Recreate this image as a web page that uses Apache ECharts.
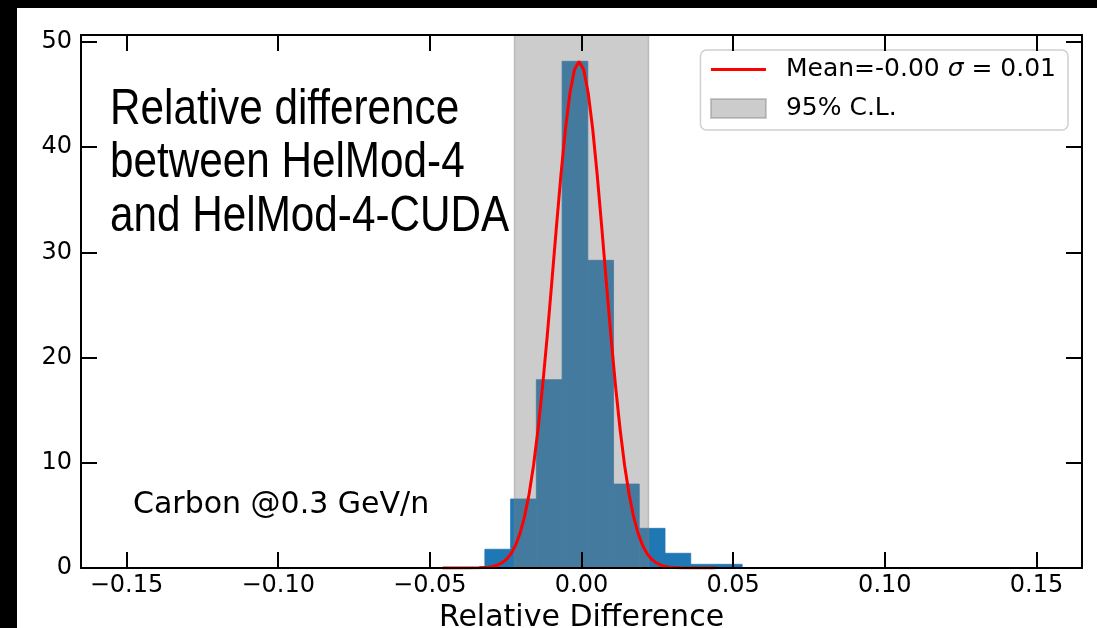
<!DOCTYPE html>
<html><head><meta charset="utf-8">
<script src="https://cdn.jsdelivr.net/npm/echarts@6/dist/echarts.min.js"></script>
<style>html,body{margin:0;padding:0;background:#fff}#c{width:1097px;height:628px}</style>
</head><body><div id="c"></div>
<script>
// ---- data ----
const binEdges = [-0.03185, -0.02337, -0.01489, -0.00640, 0.00208, 0.01056, 0.01904, 0.02753, 0.03601, 0.04449, 0.05297];
const counts   = [1.78, 6.56, 17.9, 48.17, 29.25, 7.98, 3.77, 1.40, 0.35, 0.35];
const fitX = [-0.0458, -0.0383, -0.0338, -0.0308, -0.0293, -0.0278, -0.0263, -0.0248, -0.0233, -0.0218, -0.0203, -0.0188, -0.0173, -0.0158, -0.0143, -0.0128, -0.0113, -0.0098, -0.0083, -0.0068, -0.0053, -0.0038, -0.0023, -0.0008, 0.0007, 0.0022, 0.0037, 0.0052, 0.0067, 0.0082, 0.0097, 0.0112, 0.0127, 0.0142, 0.0157, 0.0172, 0.0187, 0.0202, 0.0217, 0.0232, 0.0247, 0.0262, 0.0277, 0.0292, 0.0322, 0.0367, 0.0442];
const fitY = [0, 0.002, 0.021, 0.082, 0.152, 0.275, 0.480, 0.813, 1.332, 2.116, 3.254, 4.847, 6.994, 9.775, 13.24, 17.36, 22.04, 27.12, 32.32, 37.31, 41.71, 45.18, 47.39, 48.15, 47.39, 45.18, 41.71, 37.31, 32.32, 27.12, 22.04, 17.36, 13.24, 9.775, 6.994, 4.847, 3.254, 2.116, 1.332, 0.813, 0.480, 0.275, 0.152, 0.082, 0.021, 0.002, 0];
const clBand = [-0.0221, 0.0221];
const xTicks = [-0.15, -0.10, -0.05, 0, 0.05, 0.10, 0.15];
const yTicks = [0, 10, 20, 30, 40, 50];
const fitLabel = 'Mean=-0.00 σ = 0.01';
const clLabel = '95% C.L.';
const titleLines = ['Relative difference', 'between HelMod-4', 'and HelMod-4-CUDA'];
const noteText = 'Carbon @0.3 GeV/n';
const xName = 'Relative Difference';

// ---- build ----
const histData = counts.map((c, i) => [binEdges[i], binEdges[i + 1], c]);
const fitData = fitX.map((x, i) => [x, fitY[i]]);
const X_MIN = -0.165, X_MAX = 0.165, Y_MIN = 0, Y_MAX = 50.67;
const tickFont = 'DejaVu Sans';
const titleFont = '"Liberation Sans", Arial, sans-serif';
const fmtX = v => (v < 0 ? '\u2212' : '') + Math.abs(v).toFixed(2);

const chart = echarts.init(document.getElementById('c'), null, {renderer: 'canvas'});

const axisCommon = {
  axisLine: {show: true, onZero: false, lineStyle: {color: '#000', width: 2}},
  splitLine: {show: false},
  z: 10
};
const tickStyle = {show: true, inside: true, length: 16, lineStyle: {color: '#000', width: 2}};

const titleEl = (txt, y) => ({
  type: 'text', x: 110, y: y, scaleX: 0.845, scaleY: 1, z: 50,
  style: {text: txt, fontFamily: titleFont, fontSize: 50, fill: '#000', verticalAlign: 'middle'}
});

const option = {
  backgroundColor: '#fff',
  animation: false,
  grid: {left: 81, right: 15, top: 35, bottom: 60, containLabel: false, outerBoundsMode: 'none'},
  xAxis: [
    Object.assign({}, axisCommon, {
      type: 'value', position: 'bottom', min: X_MIN, max: X_MAX,
      name: xName, nameLocation: 'middle', nameGap: 27,
      nameTextStyle: {fontFamily: tickFont, fontSize: 30, color: '#000'},
      axisTick: Object.assign({customValues: xTicks}, tickStyle),
      axisLabel: {show: true, margin: 6, fontFamily: tickFont, fontSize: 24, color: '#000', customValues: xTicks, formatter: fmtX}
    }),
    Object.assign({}, axisCommon, {
      type: 'value', position: 'top', min: X_MIN, max: X_MAX,
      axisTick: Object.assign({customValues: xTicks}, tickStyle),
      axisLabel: {show: false}
    })
  ],
  yAxis: [
    Object.assign({}, axisCommon, {
      type: 'value', position: 'left', min: Y_MIN, max: Y_MAX,
      axisTick: Object.assign({customValues: yTicks}, tickStyle),
      axisLabel: {show: true, margin: 9, fontFamily: tickFont, fontSize: 24, color: '#000', customValues: yTicks}
    }),
    Object.assign({}, axisCommon, {
      type: 'value', position: 'right', min: Y_MIN, max: Y_MAX,
      axisTick: Object.assign({customValues: yTicks}, tickStyle),
      axisLabel: {show: false}
    })
  ],
  legend: {
    orient: 'vertical', right: 29, top: 50,
    padding: [7, 12, 9, 9],
    itemWidth: 55, itemHeight: 19, itemGap: 14,
    backgroundColor: 'rgba(255,255,255,0.8)',
    borderColor: '#d0d0d0', borderWidth: 1.5, borderRadius: 6,
    selectedMode: false,
    data: [{name: fitLabel, itemStyle: {opacity: 0}, lineStyle: {width: 3, color: '#ff0000'}}, {name: clLabel, icon: 'rect'}],
    formatter: name => {
      if (name.indexOf('σ') >= 0) {
        const p = name.split('σ');
        return '{n|' + p[0] + '}{i|σ}{n|' + p[1] + '}';
      }
      return '{n|' + name + '}';
    },
    textStyle: {
      fontFamily: tickFont, fontSize: 25, color: '#000', padding: [0, 0, 0, 15],
      rich: {
        n: {fontFamily: tickFont, fontSize: 25, color: '#000', lineHeight: 25},
        i: {fontFamily: tickFont, fontSize: 25, fontStyle: 'italic', color: '#000', lineHeight: 25}
      }
    }
  },
  series: [
    {
      name: 'hist', type: 'custom', xAxisIndex: 0, yAxisIndex: 0, z: 2,
      data: histData, encode: {x: [0, 1], y: 2},
      renderItem: (params, api) => {
        const p0 = api.coord([api.value(0), 0]);
        const p1 = api.coord([api.value(1), api.value(2)]);
        return {type: 'rect', shape: {x: p0[0], y: p1[1], width: p1[0] - p0[0], height: p0[1] - p1[1]},
                style: {fill: '#1f77b4', stroke: '#1f77b4', lineWidth: 0.8}};
      }
    },
    {
      name: clLabel, type: 'custom', xAxisIndex: 0, yAxisIndex: 0, z: 3,
      itemStyle: {color: 'rgba(128,128,128,0.4)', borderColor: 'rgba(128,128,128,0.4)', borderWidth: 1},
      data: [[clBand[0], clBand[1], 0]], encode: {x: [0, 1], y: 2},
      renderItem: (params, api) => {
        const a = api.coord([api.value(0), 0]);
        const b = api.coord([api.value(1), 0]);
        const cs = params.coordSys;
        return {type: 'rect', shape: {x: a[0], y: cs.y, width: b[0] - a[0], height: cs.height},
                style: {fill: 'rgba(128,128,128,0.4)', stroke: 'rgba(128,128,128,0.4)', lineWidth: 1.5}};
      }
    },
    {
      name: fitLabel, type: 'line', xAxisIndex: 0, yAxisIndex: 0, z: 4,
      data: fitData, showSymbol: false, symbol: 'none', smooth: false,
      lineStyle: {color: '#ff0000', width: 3}, itemStyle: {color: '#ff0000'},
      clip: true
    }
  ],
  graphic: [
    {type: 'rect', left: 0, top: 0, shape: {width: 1097, height: 8}, style: {fill: '#000'}, z: 100},
    {type: 'rect', left: 0, top: 0, shape: {width: 17, height: 628}, style: {fill: '#000'}, z: 100},
    titleEl(titleLines[0], 110),
    titleEl(titleLines[1], 163),
    titleEl(titleLines[2], 217),
    {type: 'text', x: 133, y: 505, z: 50, style: {text: noteText, fontFamily: tickFont, fontSize: 30, fill: '#000', verticalAlign: 'middle'}}
  ]
};
chart.setOption(option);
</script>
</body></html>
